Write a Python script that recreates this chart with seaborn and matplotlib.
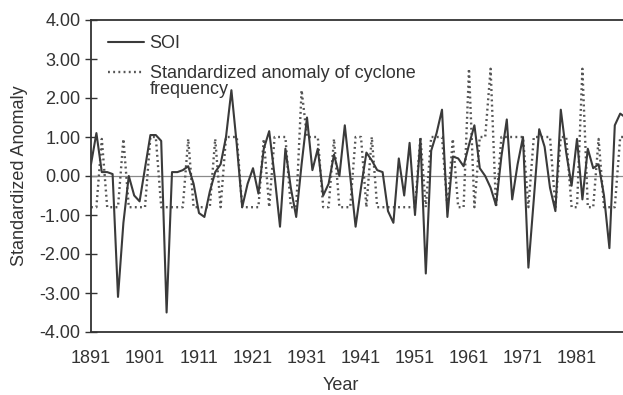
import matplotlib
matplotlib.use("Agg")
import matplotlib.pyplot as plt
import matplotlib.ticker as mticker
import seaborn as sns
import pandas as pd

years = list(range(1891, 1991))

soi = [
    0.3, 1.1, 0.1, 0.1, 0.05, -3.1, -1.2, 0.0, -0.5, -0.65,      # 1891-1900
    0.2, 1.05, 1.05, 0.9, -3.5, 0.1, 0.1, 0.15, 0.25, -0.2,      # 1901-1910
    -0.95, -1.05, -0.4, 0.1, 0.3, 1.0, 2.2, 0.8, -0.8, -0.2,     # 1911-1920
    0.2, -0.45, 0.7, 1.15, 0.0, -1.3, 0.7, -0.3, -1.05, 0.3,     # 1921-1930
    1.5, 0.15, 0.7, -0.5, -0.2, 0.55, 0.0, 1.3, 0.0, -1.3,       # 1931-1940
    -0.3, 0.6, 0.4, 0.15, 0.1, -0.9, -1.2, 0.45, -0.5, 0.85,     # 1941-1950
    -1.0, 0.95, -2.5, 0.65, 1.1, 1.7, -1.05, 0.5, 0.45, 0.25,    # 1951-1960
    0.8, 1.3, 0.2, 0.0, -0.3, -0.75, 0.5, 1.45, -0.6, 0.3,       # 1961-1970
    1.0, -2.35, -0.6, 1.2, 0.75, -0.3, -0.9, 1.7, 0.6, -0.25,    # 1971-1980
    0.95, -0.6, 0.7, 0.2, 0.3, -0.5, -1.85, 1.3, 1.6, 1.5,       # 1981-1990
]

cyclone = [
    -0.8, -0.8, 0.95, -0.8, -0.8, -0.8, 0.95, -0.8, -0.8, -0.8,  # 1891-1900
    -0.8, 1.0, 1.0, -0.8, -0.8, -0.8, -0.8, -0.8, 0.95, -0.8,    # 1901-1910
    -0.8, -0.8, -0.8, 0.95, -0.8, 1.0, 1.0, 1.0, -0.8, -0.8,     # 1911-1920
    -0.8, -0.8, 0.95, -0.8, 1.0, 1.0, 1.0, -0.8, -0.8, 2.2,      # 1921-1930
    1.0, 1.0, 1.0, -0.8, -0.8, 0.95, -0.8, -0.8, -0.8, 1.0,      # 1931-1940
    1.0, -0.8, 1.0, -0.8, -0.8, -0.8, -0.8, -0.8, -0.8, -0.8,    # 1941-1950
    -0.8, 1.0, -0.8, 1.0, 1.0, 1.0, -0.8, 0.95, -0.8, -0.8,      # 1951-1960
    2.75, -0.8, 1.0, 1.0, 2.75, -0.8, 1.0, 1.0, 1.0, 1.0,        # 1961-1970
    1.0, -0.8, 1.0, 1.0, 1.0, 1.0, -0.8, 1.0, 1.0, -0.8,         # 1971-1980
    -0.8, 2.75, -0.8, -0.8, 0.95, -0.8, -0.8, -0.8, 1.0, 1.0,    # 1981-1990
]

yticks = [-4, -3, -2, -1, 0, 1, 2, 3, 4]
xticks = [1891, 1901, 1911, 1921, 1931, 1941, 1951, 1961, 1971, 1981]

label_soi = "SOI"
label_cyc = "Standardized anomaly of cyclone"
label_cyc2 = "frequency"

df = pd.DataFrame({"Year": years, "SOI": soi, "Cyclone": cyclone})

sns.set_style("white")
plt.rcParams["font.family"] = ["Liberation Sans", "DejaVu Sans"]
plt.rcParams["axes.unicode_minus"] = False

ink = "#333333"
fs = 13
fig = plt.figure(figsize=(6.23, 3.95), dpi=100)
ax = fig.add_axes([91 / 623, 1 - 332 / 395, 532 / 623, 312 / 395])

ax.axhline(0, color="#8a8a8a", lw=0.9, zorder=1)
sns.lineplot(data=df, x="Year", y="SOI", ax=ax, color="#3a3a3a", lw=1.5,
             label=label_soi, zorder=3)
sns.lineplot(data=df, x="Year", y="Cyclone", ax=ax, color="#555555", lw=1.7,
             linestyle=(0, (0.8, 1.4)), label=label_cyc, zorder=2)

ax.set_xlim(1891, 1891 + 532 / 5.4)
ax.set_ylim(-4, 4)
ax.set_yticks(yticks)
ax.yaxis.set_major_formatter(mticker.FormatStrFormatter("%.2f"))
ax.set_xticks(xticks)
ax.set_xticklabels([str(x) for x in xticks])

ax.tick_params(axis="y", direction="inout", length=9, width=1.0, color=ink,
               labelsize=fs, labelcolor=ink, pad=3, left=True)
ax.tick_params(axis="x", length=0, labelsize=fs, labelcolor=ink, pad=13)

for side in ["top", "left", "bottom"]:
    ax.spines[side].set_visible(True)
    ax.spines[side].set_color(ink)
    ax.spines[side].set_linewidth(1.3)
ax.spines["right"].set_visible(False)

ax.set_ylabel("Standardized Anomaly", fontsize=fs, color=ink, labelpad=8)
ax.set_xlabel("Year", fontsize=fs, color=ink)
ax.xaxis.set_label_coords((341 - 91) / 532, -0.143)

leg = ax.legend(loc="upper left", bbox_to_anchor=(0.032, 0.952), frameon=False,
                fontsize=fs, handlelength=2.0, handletextpad=0.3,
                labelspacing=0.72, borderpad=0, borderaxespad=0)
for t in leg.get_texts():
    t.set_color(ink)

ax.text((150 - 91) / 532, (332 - 89) / 312, label_cyc2, transform=ax.transAxes,
        fontsize=fs, color=ink, ha="left", va="center")

fig.savefig("out.png", dpi=100)
